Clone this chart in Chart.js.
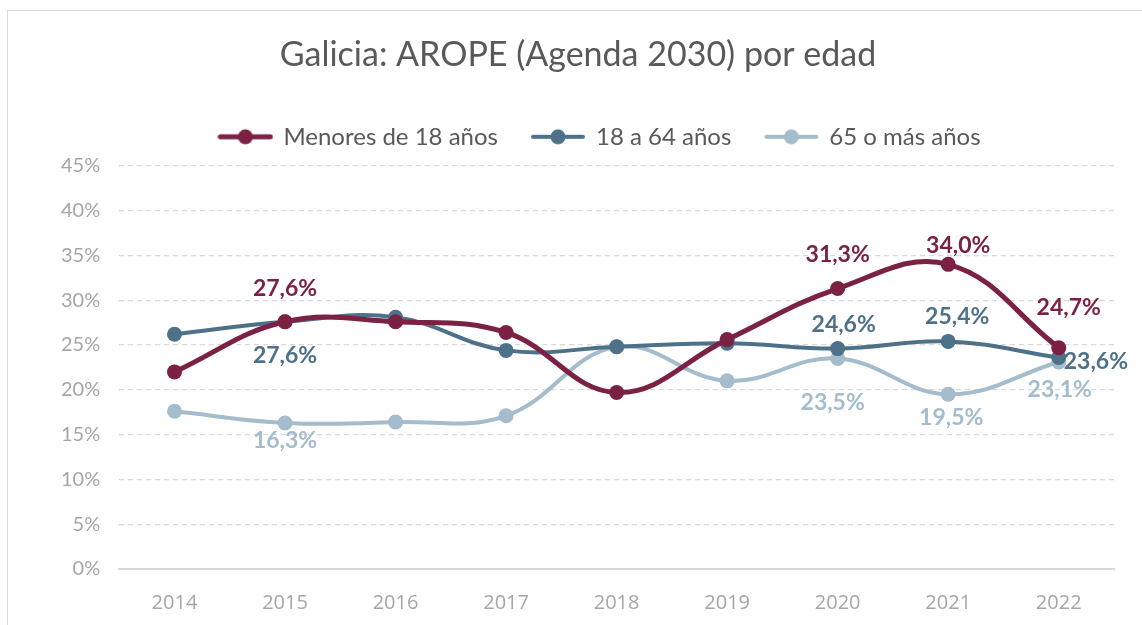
<!DOCTYPE html>
<html>
<head>
<meta charset="utf-8">
<script src="https://cdn.jsdelivr.net/npm/chart.js@4"></script>
<style>
  html, body { margin: 0; padding: 0; background: #fff; overflow: hidden; }
  #wrap { position: absolute; left: 7px; top: 10px; width: 1135px; height: 620px; border-left: 1px solid #d9d9d9; border-top: 1px solid #d9d9d9; box-sizing: border-box; }
  #chart { display: block; }
</style>
</head>
<body>
<div id="wrap"><canvas id="chart" width="1134" height="618"></canvas></div>
<script>
// ===================== DATA =====================
const years = ['2014', '2015', '2016', '2017', '2018', '2019', '2020', '2021', '2022'];
const menores = [22.0, 27.6, 27.6, 26.4, 19.7, 25.6, 31.3, 34.0, 24.7];
const adultos = [26.2, 27.6, 28.1, 24.4, 24.8, 25.2, 24.6, 25.4, 23.6];
const mayores = [17.6, 16.3, 16.4, 17.1, 24.8, 21.0, 23.5, 19.5, 23.1];
const yTicks = [0, 5, 10, 15, 20, 25, 30, 35, 40, 45];

// ===================== LABEL PLACEMENT (offset from point, null = no label) =====================
const menoresLabels = [null, [0, -33], null, null, null, null, [0, -34], [10, -19], [10, -40]];
const adultosLabels = [null, [0, 34], null, null, null, null, [6, -24], [9, -25], ['right', 4]];
const mayoresLabels = [null, [0, 18], null, null, null, null, [-5, 44], [3, 23], [1, 28]];

const colMenores = '#7b2144';
const colAdultos = '#4d7189';
const colMayores = '#a4bccb';
const fontMain = 'Lato, "Open Sans", sans-serif';

// Legend marker: line with a dot in the middle
function legendMarker(color, lw) {
    const c = document.createElement('canvas');
    c.width = 56; c.height = 18;
    const ctx = c.getContext('2d');
    ctx.strokeStyle = color;
    ctx.lineWidth = lw;
    ctx.lineCap = 'round';
    ctx.beginPath();
    ctx.moveTo(3, 9); ctx.lineTo(53, 9);
    ctx.stroke();
    ctx.fillStyle = color;
    ctx.beginPath();
    ctx.arc(28, 9, 7.5, 0, Math.PI * 2);
    ctx.fill();
    return c;
}

// Extra space under the legend, and nudge it to the right like the original
const legendMargin = {
    id: 'legendMargin',
    beforeInit(chart) {
        const fit = chart.legend.fit;
        chart.legend.fit = function() {
            fit.bind(chart.legend)();
            this.height += 7;
        };
    },
    afterLayout(chart) {
        chart.legend.left += 22;
        chart.legend.right += 22;
    }
};

// Data labels plugin
const pointLabels = {
    id: 'pointLabels',
    afterDatasetsDraw(chart) {
        const ctx = chart.ctx;
        ctx.save();
        ctx.font = 'bold 23px ' + fontMain;
        ctx.textBaseline = 'middle';
        chart.data.datasets.forEach((ds, i) => {
            const meta = chart.getDatasetMeta(i);
            ds.labelPos.forEach((pos, j) => {
                if (!pos) return;
                const pt = meta.data[j];
                const txt = ds.data[j].toFixed(1).replace('.', ',') + '%';
                ctx.fillStyle = ds.borderColor;
                if (pos[0] === 'right') {
                    ctx.textAlign = 'left';
                    ctx.fillText(txt, pt.x + 5, pt.y + pos[1]);
                } else {
                    ctx.textAlign = 'center';
                    ctx.fillText(txt, pt.x + pos[0], pt.y + pos[1]);
                }
            });
        });
        ctx.restore();
    }
};

function series(label, data, color, width, labels) {
    return {
        label: label,
        data: data,
        labelPos: labels,
        legendImg: legendMarker(color, width),
        borderColor: color,
        backgroundColor: color,
        borderWidth: width,
        pointStyle: 'circle',
        pointRadius: 7.5,
        pointHoverRadius: 7.5,
        pointBackgroundColor: color,
        pointBorderWidth: 0,
        tension: 0.4,
        fill: false
    };
}

const ctx = document.getElementById('chart').getContext('2d');
const chart = new Chart(ctx, {
    type: 'line',
    data: {
        labels: years,
        datasets: [
            series('Menores de 18 años', menores, colMenores, 5, menoresLabels),
            series('18 a 64 años', adultos, colAdultos, 4, adultosLabels),
            series('65 o más años', mayores, colMayores, 4, mayoresLabels)
        ]
    },
    options: {
        responsive: false,
        animation: false,
        layout: { padding: { left: 34, right: 28, top: 4, bottom: 0 } },
        plugins: {
            title: {
                display: true,
                text: 'Galicia: AROPE (Agenda 2030) por edad',
                color: '#595959',
                font: { family: fontMain, size: 34, weight: 'normal' },
                padding: { top: 20, bottom: 15 }
            },
            legend: {
                display: true,
                labels: {
                    usePointStyle: true,
                    pointStyleWidth: 52,
                    color: '#595959',
                    font: { family: fontMain, size: 24 },
                    padding: 34,
                    generateLabels(chart) {
                        return chart.data.datasets.map((ds, i) => ({
                            text: ds.label,
                            fillStyle: ds.borderColor,
                            strokeStyle: ds.borderColor,
                            fontColor: '#595959',
                            lineWidth: 0,
                            pointStyle: ds.legendImg,
                            datasetIndex: i,
                            hidden: false
                        }));
                    }
                }
            },
            tooltip: { enabled: false }
        },
        scales: {
            x: {
                offset: true,
                grid: { display: false },
                border: { display: true, color: '#d9d9d9', width: 2 },
                ticks: {
                    color: '#a6a6a6',
                    padding: 14,
                    font: { family: '"Liberation Sans Narrow", "Open Sans", sans-serif', size: 20 }
                }
            },
            y: {
                min: 0,
                max: 45,
                afterBuildTicks(axis) {
                    axis.ticks = yTicks.map(v => ({ value: v }));
                },
                border: { display: false, dash: [5, 4] },
                grid: {
                    color: c => c.tick && c.tick.value === 0 ? 'rgba(0,0,0,0)' : '#d9d9d9',
                    lineWidth: 1.3,
                    drawTicks: false
                },
                ticks: {
                    color: '#a6a6a6',
                    padding: 19,
                    font: { family: fontMain, size: 20 },
                    callback: v => v + '%'
                }
            }
        }
    },
    plugins: [legendMargin, pointLabels]
});
</script>
</body>
</html>
